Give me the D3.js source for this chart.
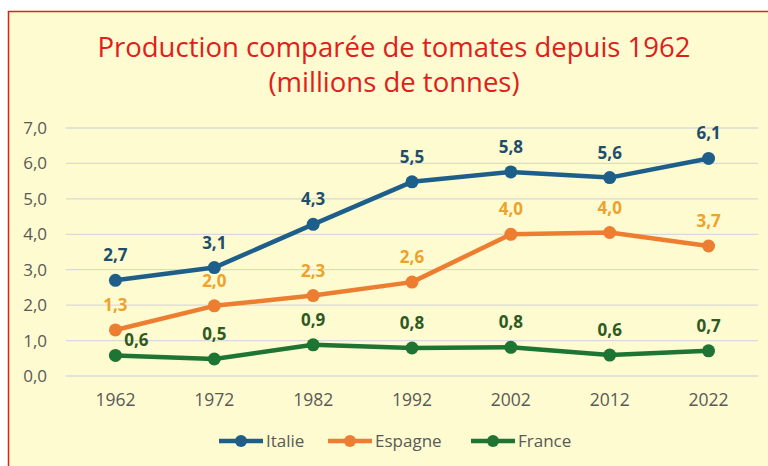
<!DOCTYPE html>
<html>
<head>
<meta charset="utf-8">
<script src="https://cdn.jsdelivr.net/npm/d3@7"></script>
<style>
body { margin: 0; background: #ffffff; }
svg text { font-family: "Open Sans", "Noto Sans", sans-serif; }
</style>
</head>
<body>
<div id="chart"></div>
<script>
var years = ["1962", "1972", "1982", "1992", "2002", "2012", "2022"];
var italie = [2.7, 3.06, 4.28, 5.48, 5.76, 5.6, 6.14];
var espagne = [1.3, 1.98, 2.27, 2.65, 4.0, 4.05, 3.67];
var france = [0.58, 0.48, 0.88, 0.79, 0.81, 0.59, 0.71];
var yTicks = [0, 1, 2, 3, 4, 5, 6, 7];

var series = [
    {name: "Italie", values: italie, color: "#1d5f8a", label: "#1f4e6c"},
    {name: "Espagne", values: espagne, color: "#ed7d31", label: "#eda22b"},
    {name: "France", values: france, color: "#1e7432", label: "#2d5a22"}
];

var width = 768, height = 466;
var svg = d3.select("#chart").append("svg")
    .attr("width", width)
    .attr("height", height);

// cadre
svg.append("rect")
    .attr("x", 8.5).attr("y", 11.5)
    .attr("width", 780).attr("height", 480)
    .attr("fill", "#fefbd0")
    .attr("stroke", "#e0201b")
    .attr("stroke-width", 1.5);

// titre
var title = svg.append("text")
    .attr("text-anchor", "middle")
    .attr("fill", "#e0201b")
    .style("font-size", "27.5px");
title.append("tspan").attr("x", 394).attr("y", 57).text("Production comparée de tomates depuis 1962");
title.append("tspan").attr("x", 394).attr("y", 92).text("(millions de tonnes)");

var x = d3.scaleBand().domain(years).range([66, 758]);
var y = d3.scaleLinear().domain([0, 7]).range([376, 128]);

// grille
svg.append("g").selectAll("line")
    .data(yTicks)
    .enter().append("line")
    .attr("x1", 66).attr("x2", 758)
    .attr("y1", function(d) { return y(d); })
    .attr("y2", function(d) { return y(d); })
    .attr("stroke", "#d9d9d9")
    .attr("stroke-width", 1.3);

var fmt = function(v) { return v.toFixed(1).replace(".", ","); };

var yAxis = svg.append("g")
    .attr("transform", "translate(50,0)")
    .call(d3.axisLeft(y).tickValues(yTicks).tickSize(0).tickFormat(fmt));
yAxis.select(".domain").remove();
yAxis.selectAll("text")
    .attr("fill", "#595959")
    .style("font-size", "17px")
    .style("font-family", "'Open Sans', sans-serif");

var xAxis = svg.append("g")
    .attr("transform", "translate(0,388)")
    .call(d3.axisBottom(x).tickSize(0));
xAxis.select(".domain").remove();
xAxis.selectAll("text")
    .attr("fill", "#595959")
    .attr("dy", "0.85em")
    .style("font-size", "17.5px")
    .style("font-family", "'Open Sans', sans-serif");

var cx = function(i) { return x(years[i]) + x.bandwidth() / 2; };

var line = d3.line()
    .x(function(d, i) { return cx(i); })
    .y(function(d) { return y(d); });

series.forEach(function(s) {
    var g = svg.append("g");
    g.append("path")
        .attr("d", line(s.values))
        .attr("fill", "none")
        .attr("stroke", s.color)
        .attr("stroke-width", 4.5)
        .attr("stroke-linejoin", "round");
    g.selectAll("circle")
        .data(s.values)
        .enter().append("circle")
        .attr("cx", function(d, i) { return cx(i); })
        .attr("cy", function(d) { return y(d); })
        .attr("r", 6.5)
        .attr("fill", s.color);
    g.selectAll("text")
        .data(s.values)
        .enter().append("text")
        .attr("text-anchor", "middle")
        .attr("x", function(d, i) {
            // le premier point de France est décalé pour ne pas chevaucher
            return cx(i) + (s.name == "France" && i == 0 ? 21 : 0);
        })
        .attr("y", function(d, i) {
            return y(d) - (s.name == "France" && i == 0 ? 9 : 19);
        })
        .attr("fill", s.label)
        .style("font-size", "17px")
        .style("font-weight", "bold")
        .text(function(d) { return fmt(d); });
});

// légende
var legendX = [219, 328, 471];
var legend = svg.append("g").selectAll("g")
    .data(series)
    .enter().append("g")
    .attr("transform", function(d, i) { return "translate(" + legendX[i] + ",441)"; });
legend.append("line")
    .attr("x1", 0).attr("x2", 44)
    .attr("stroke", function(d) { return d.color; })
    .attr("stroke-width", 4.5);
legend.append("circle")
    .attr("cx", 22).attr("r", 6)
    .attr("fill", function(d) { return d.color; });
legend.append("text")
    .attr("x", 47).attr("y", 6)
    .attr("fill", "#595959")
    .style("font-size", "17px")
    .text(function(d) { return d.name; });
</script>
</body>
</html>
